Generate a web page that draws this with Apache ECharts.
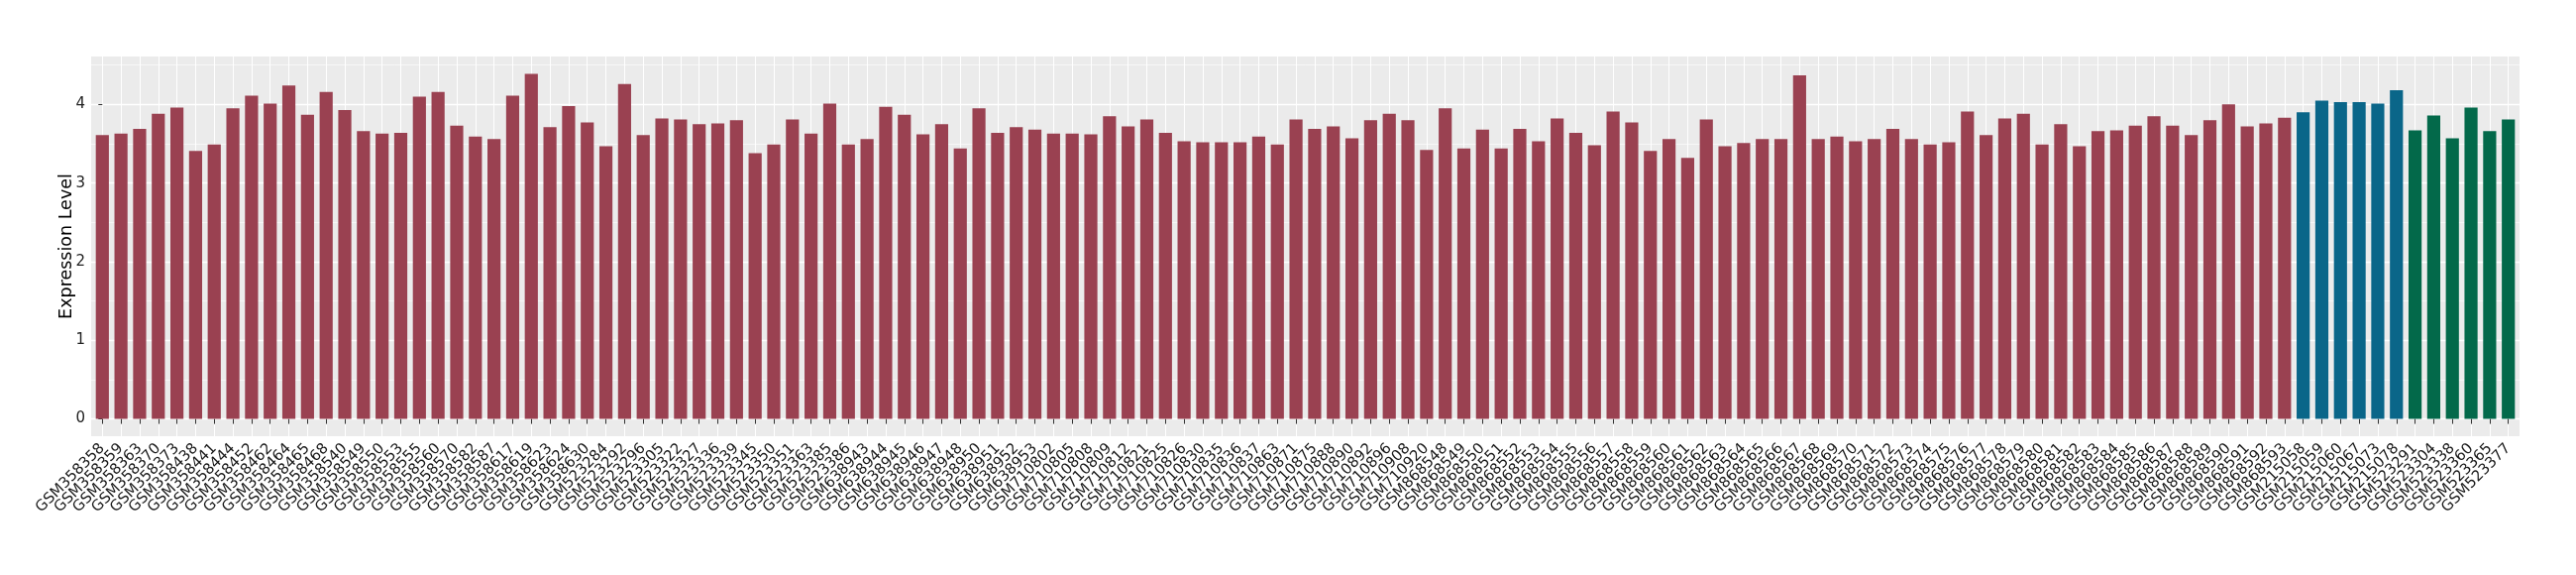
<!DOCTYPE html>
<html><head><meta charset="utf-8">
<script src="https://cdn.jsdelivr.net/npm/echarts@6/dist/echarts.min.js"></script>
<style>html,body{margin:0;padding:0;background:#fff}#chart{width:2600px;height:580px}</style>
</head><body><div id="chart"></div>
<script>
const catsA = ['GSM358358','GSM358359','GSM358363','GSM358370','GSM358373','GSM358438','GSM358441','GSM358444','GSM358452','GSM358462',
'GSM358464','GSM358465','GSM358468','GSM358540','GSM358549','GSM358550','GSM358553','GSM358555','GSM358560','GSM358570',
'GSM358582','GSM358587','GSM358617','GSM358619','GSM358623','GSM358624','GSM358630','GSM523284','GSM523292','GSM523296',
'GSM523305','GSM523322','GSM523327','GSM523336','GSM523339','GSM523345','GSM523350','GSM523351','GSM523363','GSM523385',
'GSM523386','GSM638943','GSM638944','GSM638945','GSM638946','GSM638947','GSM638948','GSM638950','GSM638951','GSM638952',
'GSM638953','GSM710802','GSM710805','GSM710808','GSM710809','GSM710812','GSM710821','GSM710825','GSM710826','GSM710830',
'GSM710835','GSM710836','GSM710837','GSM710863','GSM710871','GSM710875','GSM710888','GSM710890','GSM710892','GSM710896',
'GSM710908','GSM710920','GSM868548','GSM868549','GSM868550','GSM868551','GSM868552','GSM868553','GSM868554','GSM868555',
'GSM868556','GSM868557','GSM868558','GSM868559','GSM868560','GSM868561','GSM868562','GSM868563','GSM868564','GSM868565',
'GSM868566','GSM868567','GSM868568','GSM868569','GSM868570','GSM868571','GSM868572','GSM868573','GSM868574','GSM868575',
'GSM868576','GSM868577','GSM868578','GSM868579','GSM868580','GSM868581','GSM868582','GSM868583','GSM868584','GSM868585',
'GSM868586','GSM868587','GSM868588','GSM868589','GSM868590','GSM868591','GSM868592','GSM868593'];
const valsA = [3.61,3.63,3.69,3.88,3.96,3.41,3.49,3.95,4.11,4.01,
4.24,3.87,4.16,3.93,3.66,3.63,3.64,4.10,4.16,3.73,
3.59,3.56,4.11,4.39,3.71,3.98,3.77,3.47,4.26,3.61,
3.82,3.81,3.75,3.76,3.80,3.38,3.49,3.81,3.63,4.01,
3.49,3.56,3.97,3.87,3.62,3.75,3.44,3.95,3.64,3.71,
3.68,3.63,3.63,3.62,3.85,3.72,3.81,3.64,3.53,3.52,
3.52,3.52,3.59,3.49,3.81,3.69,3.72,3.57,3.80,3.88,
3.80,3.42,3.95,3.44,3.68,3.44,3.69,3.53,3.82,3.64,
3.48,3.91,3.77,3.41,3.56,3.32,3.81,3.47,3.51,3.56,
3.56,4.37,3.56,3.59,3.53,3.56,3.69,3.56,3.49,3.52,
3.91,3.61,3.82,3.88,3.49,3.75,3.47,3.66,3.67,3.73,
3.85,3.73,3.61,3.80,4.00,3.72,3.76,3.83];
const catsB = ['GSM215058','GSM215059','GSM215060','GSM215067','GSM215073','GSM215078'];
const valsB = [3.90,4.05,4.03,4.03,4.01,4.18];
const catsC = ['GSM523291','GSM523304','GSM523338','GSM523360','GSM523365','GSM523377'];
const valsC = [3.67,3.86,3.57,3.96,3.66,3.81];
const yTicks = [0,1,2,3,4];
const yMinor = [0.5,1.5,2.5,3.5,4.5];

const colA = '#9A4151', colB = '#0A6689', colC = '#03694A';
const cats = catsA.concat(catsB, catsC);
const groups = [[valsA, colA], [valsB, colB], [valsC, colC]];
const data = [];
let k = 0;
groups.forEach(([vals, col]) => vals.forEach(v => { data.push({value: [k, v], itemStyle: {color: col}}); k++; }));
const idx = cats.map((_, i) => i);
const n = cats.length;
const xMin = -0.6, xMax = n - 1 + 0.6;
const labelVals = [xMin].concat(idx, [xMax]);
const allVals = valsA.concat(valsB, valsC);
const vmax = Math.max(...allVals);
const pad = vmax * 0.05;

const font = 'DejaVu Sans';
const chart = echarts.init(document.getElementById('chart'));
chart.setOption({
  animation: false,
  backgroundColor: '#ffffff',
  grid: {left: 92, right: 57, top: 57, bottom: 140, show: true, backgroundColor: '#EBEBEB', borderWidth: 0},
  xAxis: {
    type: 'value', min: xMin, max: xMax,
    axisLine: {show: false},
    axisTick: {show: true, customValues: idx, length: 5, lineStyle: {color: '#333333', width: 1}},
    axisLabel: {customValues: labelVals, formatter: v => (Number.isInteger(v) && cats[v]) ? cats[v] : '', rotate: 45, fontSize: 15, fontFamily: font, color: '#1a1a1a', margin: 10},
    splitLine: {show: true, lineStyle: {color: '#ffffff', width: 1}}
  },
  yAxis: [{
    type: 'value', min: -pad, max: vmax + pad,
    name: 'Expression Level', nameLocation: 'middle', nameGap: 16, nameMoveOverlap: false,
    nameTextStyle: {fontSize: 17.5, fontFamily: font, color: '#000000'},
    axisLine: {show: false},
    axisTick: {show: true, customValues: yTicks, length: 4, lineStyle: {color: '#333333', width: 1}},
    axisLabel: {customValues: yTicks, fontSize: 15, fontFamily: font, color: '#222222', margin: 6},
    splitLine: {show: true, lineStyle: {color: '#ffffff', width: 1.3}}
  }, {
    type: 'value', min: -pad, max: vmax + pad, position: 'left',
    axisLine: {show: false},
    axisTick: {show: false, customValues: yMinor},
    axisLabel: {show: false, customValues: yMinor},
    splitLine: {show: true, lineStyle: {color: '#ffffff', width: 0.6}}
  }],
  series: [{
    type: 'bar', xAxisIndex: 0, yAxisIndex: 0, barWidth: 13.2, data: data, silent: true
  }]
});
</script></body></html>
